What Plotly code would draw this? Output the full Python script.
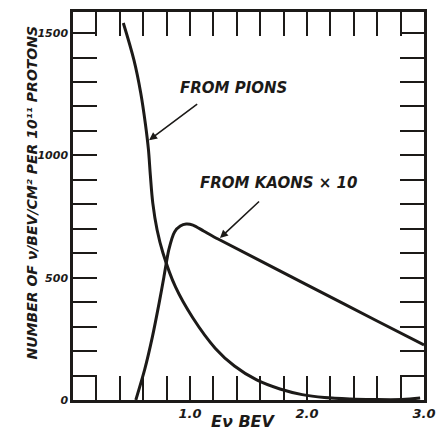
import plotly.graph_objects as go

# Neutrino flux curves (values per BEV per cm^2 per 10^11 protons)
pion_energy = [0.430, 0.521, 0.579, 0.620, 0.645, 0.661, 0.682, 0.719, 0.769,
               0.876, 1.025, 1.215, 1.380, 1.570, 1.769, 1.959, 2.149,
               2.372, 2.562, 2.810, 2.967]
pion_flux = [1541, 1389, 1255, 1124, 1022, 919, 805, 695, 601,
             462, 335, 212, 139, 82, 45, 22, 10,
             4, 2, 2, 8]

kaon_energy = [0.537, 0.612, 0.678, 0.736, 0.777, 0.818, 0.868, 0.917, 0.967,
               1.025, 1.116, 1.240, 1.983, 2.595, 3.0]
kaon_flux = [0, 123, 257, 396, 503, 613, 687, 711, 719,
             715, 691, 658, 475, 324, 225]

x_tick_vals = [round(0.2 * i, 1) for i in range(1, 16)]
x_tick_text = ["1.0" if v == 1.0 else "2.0" if v == 2.0 else "3.0" if v == 3.0 else ""
               for v in x_tick_vals]
y_tick_vals = list(range(0, 1600, 100))
y_tick_text = [str(v) if v % 500 == 0 else "" for v in y_tick_vals]

INK = "#1c1a18"
FONT = "DejaVu Sans"


def hand_font(size):
    return dict(family=FONT, size=size, color=INK, weight="bold", style="italic")


fig = go.Figure()
fig.add_trace(go.Scatter(x=pion_energy, y=pion_flux, mode="lines",
                         line=dict(color=INK, width=3, shape="spline", smoothing=1.0),
                         showlegend=False, hoverinfo="skip"))
fig.add_trace(go.Scatter(x=kaon_energy, y=kaon_flux, mode="lines",
                         line=dict(color=INK, width=3, shape="spline", smoothing=0.6),
                         showlegend=False, hoverinfo="skip"))

fig.update_xaxes(range=[0, 3.0], showgrid=False, zeroline=False,
                 showline=True, linewidth=2.5, linecolor=INK, mirror="ticks",
                 ticks="inside", ticklen=24, tickwidth=2, tickcolor=INK,
                 tickvals=x_tick_vals, ticktext=x_tick_text,
                 tickfont=hand_font(13))
fig.update_yaxes(range=[0, 1586], showgrid=False, zeroline=False,
                 showline=True, linewidth=2.5, linecolor=INK, mirror="ticks",
                 ticks="inside", ticklen=24, tickwidth=2, tickcolor=INK,
                 tickvals=y_tick_vals, ticktext=y_tick_text,
                 tickfont=hand_font(11))

annotations = [
    dict(text="FROM PIONS", x=1.37, y=1275, xref="x", yref="y", showarrow=False,
         font=hand_font(15)),
    dict(text="", x=0.650, y=1062, ax=1.074, ay=1214, xref="x", yref="y",
         axref="x", ayref="y", showarrow=True, arrowhead=2, arrowsize=1,
         arrowwidth=1.6, arrowcolor=INK),
    dict(text="FROM KAONS × 10", x=1.76, y=887, xref="x", yref="y", showarrow=False,
         font=hand_font(15)),
    dict(text="", x=1.256, y=662, ax=1.603, ay=817, xref="x", yref="y",
         axref="x", ayref="y", showarrow=True, arrowhead=2, arrowsize=1,
         arrowwidth=1.6, arrowcolor=INK),
    dict(text="NUMBER OF ν/BEV/CM² PER 10¹¹ PROTONS", textangle=-90,
         x=-0.145, y=0.535, xref="paper", yref="paper", showarrow=False,
         font=hand_font(14)),
    dict(text="Eν BEV", x=0.487, y=-0.085, xref="paper", yref="paper",
         showarrow=False, font=hand_font(16)),
]

fig.update_layout(width=445, height=443,
                  margin=dict(l=73, r=9, t=12, b=43),
                  paper_bgcolor="white", plot_bgcolor="white",
                  annotations=annotations)

fig.write_html("out.html")
